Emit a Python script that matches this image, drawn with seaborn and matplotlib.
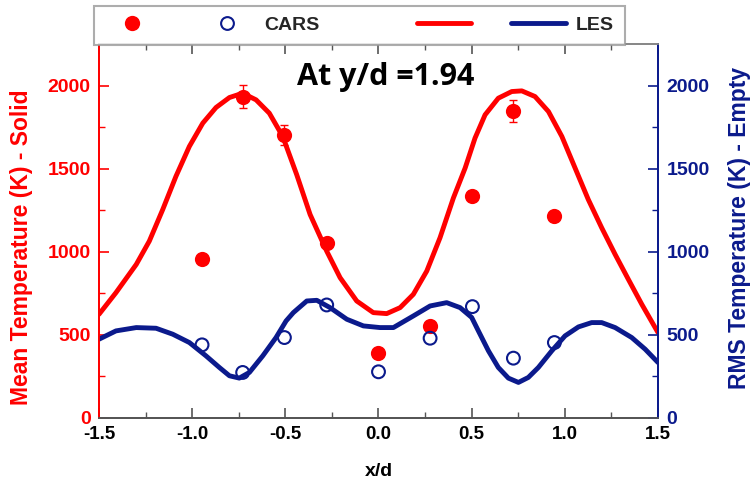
import matplotlib
matplotlib.use("Agg")
import matplotlib.pyplot as plt
import seaborn as sns
import pandas as pd
from matplotlib.lines import Line2D
from matplotlib.legend_handler import HandlerTuple

# ---- data ----
x_cars = [-0.947, -0.729, -0.505, -0.278, 0.0, 0.277, 0.504, 0.724, 0.944]
mean_cars = [958, 1934, 1700, 1054, 394, 554, 1338, 1848, 1218]
mean_err = [0, 67, 60, 0, 0, 0, 0, 65, 0]
rms_cars = [440, 274, 484, 680, 278, 480, 670, 360, 454]

x_les_mean = [-1.5, -1.409, -1.30, -1.23, -1.158, -1.087, -1.015, -0.943, -0.872,
              -0.80, -0.729, -0.657, -0.586, -0.514, -0.439, -0.367, -0.278,
              -0.206, -0.117, -0.028, 0.044, 0.116, 0.187, 0.259, 0.330, 0.402,
              0.465, 0.518, 0.572, 0.643, 0.715, 0.769, 0.840, 0.912, 0.984,
              1.055, 1.126, 1.198, 1.270, 1.341, 1.413, 1.5]
les_mean = [624, 754, 924, 1064, 1254, 1454, 1634, 1774, 1868,
            1928, 1954, 1914, 1834, 1694, 1464, 1224, 1004,
            844, 704, 634, 628, 664, 744, 884, 1084, 1324,
            1504, 1684, 1824, 1924, 1964, 1968, 1934, 1844, 1694,
            1504, 1314, 1144, 984, 834, 684, 514]

x_les_rms = [-1.5, -1.409, -1.30, -1.194, -1.104, -1.015, -0.926, -0.854, -0.80,
             -0.747, -0.693, -0.621, -0.55, -0.496, -0.457, -0.385, -0.331,
             -0.26, -0.170, -0.081, 0.008, 0.080, 0.187, 0.277, 0.366, 0.438,
             0.50, 0.536, 0.590, 0.643, 0.697, 0.751, 0.804, 0.858, 0.930,
             1.001, 1.073, 1.144, 1.198, 1.270, 1.359, 1.431, 1.5]
les_rms = [474, 524, 544, 540, 504, 454, 374, 304, 254,
           240, 274, 374, 484, 584, 634, 704, 708,
           664, 594, 554, 544, 544, 614, 674, 694, 664,
           605, 524, 404, 304, 240, 214, 244, 304, 404,
           494, 548, 574, 574, 544, 484, 414, 334]

yticks = [0, 500, 1000, 1500, 2000]
xticks = [-1.5, -1.0, -0.5, 0.0, 0.5, 1.0, 1.5]
xticklabels = ["-1.5", "-1.0", "-0.5", "0.0", "0.5", "1.0", "1.5"]

RED = "#ff0000"
NAVY = "#0b1a8c"
GRAY = "#555555"

sns.set_theme(style="white")
plt.rcParams["font.family"] = ["Liberation Sans", "DejaVu Sans"]
plt.rcParams["font.weight"] = "bold"

fig = plt.figure(figsize=(7.55, 4.86), dpi=100)
ax = fig.add_axes([99 / 755, 1 - 418 / 486, 559 / 755, 374 / 486])
ax2 = ax.twinx()

df_mean = pd.DataFrame({"x": x_les_mean, "y": les_mean})
df_rms = pd.DataFrame({"x": x_les_rms, "y": les_rms})
df_cars = pd.DataFrame({"x": x_cars, "mean": mean_cars, "rms": rms_cars})

sns.lineplot(data=df_mean, x="x", y="y", ax=ax, color=RED, linewidth=3.5,
             sort=False, zorder=2)
ax.errorbar(x_cars, mean_cars, yerr=mean_err, fmt="none", ecolor=RED,
            elinewidth=1.0, capsize=3, capthick=1.0, zorder=3)
sns.scatterplot(data=df_cars, x="x", y="mean", ax=ax, color=RED, s=120,
                edgecolor=RED, linewidth=0, zorder=4)

sns.lineplot(data=df_rms, x="x", y="y", ax=ax2, color=NAVY, linewidth=3.5,
             sort=False, zorder=2)
sns.scatterplot(data=df_cars, x="x", y="rms", ax=ax2, s=85,
                facecolor="none", edgecolor=NAVY, linewidth=1.5, zorder=4)

for a in (ax, ax2):
    a.set_xlim(-1.5, 1.5)
    a.set_ylim(0, 2250)
    a.set_yticks(yticks)
    a.set_yticklabels([str(v) for v in yticks])
    a.set_yticks([250, 750, 1250, 1750], minor=True)

ax.set_xticks(xticks)
ax.set_xticklabels(xticklabels)
ax.set_xticks([-1.25, -0.75, -0.25, 0.25, 0.75, 1.25], minor=True)

ax.tick_params(axis="x", which="both", direction="in", top=True, bottom=True,
               colors=GRAY, labelcolor="black", labelsize=13.5, pad=6)
ax.tick_params(axis="x", which="major", length=7, width=1.2)
ax.tick_params(axis="x", which="minor", length=4, width=1.0)
ax.tick_params(axis="y", which="both", direction="in", colors=RED,
               labelcolor=RED, labelsize=14, pad=6, left=True)
ax.tick_params(axis="y", which="major", length=7, width=1.2)
ax.tick_params(axis="y", which="minor", length=4, width=1.0)
ax2.tick_params(axis="y", which="both", direction="in", colors=NAVY,
                labelcolor=NAVY, labelsize=14, pad=6, right=True)
ax2.tick_params(axis="y", which="major", length=7, width=1.2)
ax2.tick_params(axis="y", which="minor", length=4, width=1.0)

for a in (ax, ax2):
    a.spines["left"].set_color(RED)
    a.spines["right"].set_color(NAVY)
    a.spines["bottom"].set_color(GRAY)
    a.spines["top"].set_color("#888888")
    for s in a.spines.values():
        s.set_linewidth(1.3)

ax.set_xlabel("x/d", fontsize=14, fontweight="bold", color="black", labelpad=14)
ax.set_ylabel("Mean Temperature (K) - Solid", fontsize=16.5, fontweight="bold",
              color=RED)
ax.yaxis.set_label_coords(-0.118, 0.457)
ax2.set_ylabel("RMS Temperature (K) - Empty", fontsize=16.5, fontweight="bold",
               color=NAVY)
ax2.yaxis.set_label_coords(1.125, 0.508)

ax.text(0.04, 2050, "At y/d =1.94", fontsize=22, fontweight="bold",
        family=["Open Sans", "DejaVu Sans"], ha="center", va="center",
        color="black")

h_cars = (Line2D([], [], ls="none", marker="o", markersize=11, color=RED,
                 markeredgewidth=0),
          Line2D([], [], ls="none", marker="o", markersize=9.2, color=NAVY,
                 markerfacecolor="none", markeredgewidth=1.5))
h_les = (Line2D([], [], color=RED, linewidth=3.5),
         Line2D([], [], color=NAVY, linewidth=3.5))
leg = fig.legend([h_cars, h_les], ["CARS", "LES"], ncol=2,
                 handler_map={tuple: HandlerTuple(ndivide=None, pad=2.06)},
                 handlelength=7.7, handletextpad=0.5, columnspacing=5.0,
                 loc="upper left", bbox_to_anchor=(94 / 755, 1 - 6 / 486),
                 borderaxespad=0, frameon=True, fancybox=False, borderpad=0.55,
                 prop={"weight": "bold", "size": 14})
leg.get_frame().set_edgecolor("#999999")
leg.get_frame().set_linewidth(1.5)

fig.savefig("out.png", dpi=100)
